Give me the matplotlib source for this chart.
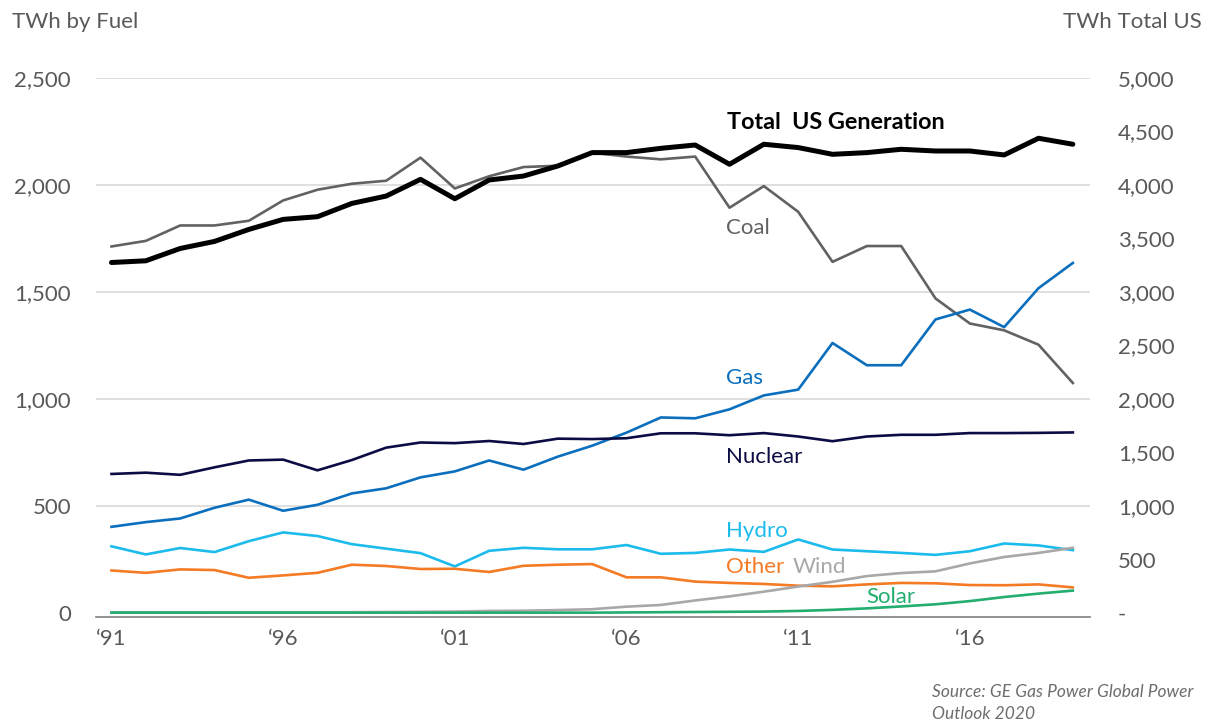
import numpy as np
import matplotlib
matplotlib.use("Agg")
import matplotlib.pyplot as plt

plt.rcParams['font.family'] = ['Lato', 'DejaVu Sans']

years = np.arange(1991, 2020)

# right axis (TWh Total US)
total = [3276, 3292, 3407, 3473, 3585, 3679, 3704, 3828, 3897, 4053, 3872, 4047, 4084, 4178, 4303,
         4303, 4343, 4374, 4194, 4381, 4350, 4287, 4303, 4334, 4318, 4318, 4281, 4437, 4381]

# left axis (TWh by fuel)
coal = [1713, 1739, 1811, 1811, 1833, 1928, 1978, 2006, 2020, 2128, 1984, 2041, 2084, 2090, 2151,
        2133, 2120, 2133, 1894, 1995, 1875, 1641, 1715, 1715, 1470, 1353, 1321, 1254, 1075]
gas = [403, 425, 442, 492, 530, 478, 506, 559, 583, 634, 662, 713, 670, 731, 782,
       843, 914, 910, 952, 1017, 1044, 1262, 1158, 1158, 1372, 1418, 1336, 1518, 1636]
nuclear = [650, 656, 646, 681, 713, 717, 667, 715, 773, 797, 794, 804, 790, 815, 813,
           817, 840, 840, 831, 841, 825, 803, 825, 833, 833, 841, 841, 842, 844]
hydro = [312, 274, 304, 285, 336, 377, 360, 322, 301, 280, 218, 291, 305, 298, 298,
         318, 277, 281, 297, 286, 344, 297, 289, 281, 272, 289, 325, 316, 294]
other = [199, 188, 204, 201, 165, 176, 188, 226, 220, 206, 207, 192, 221, 226, 229,
         167, 167, 147, 141, 136, 128, 125, 134, 141, 139, 131, 130, 134, 120]
wind = [3, 3, 3, 4, 4, 4, 4, 4, 5, 6, 7, 10, 11, 14, 18,
        30, 38, 59, 78, 100, 124, 146, 173, 187, 195, 232, 262, 281, 305]
solar = [2, 2, 2, 2, 2, 2, 2, 2, 2, 2, 2, 2, 2, 2, 2,
         3, 4, 5, 6, 7, 10, 15, 22, 31, 41, 56, 75, 91, 105]

xtick_years = [1991, 1996, 2001, 2006, 2011, 2016]
xtick_labels = ['\u201891', '\u201896', '\u201801', '\u201806', '\u201811', '\u201816']
left_ticks = [0, 500, 1000, 1500, 2000, 2500]
left_labels = ['0', '500', '1,000', '1,500', '2,000', '2,500']
right_ticks = [0, 500, 1000, 1500, 2000, 2500, 3000, 3500, 4000, 4500, 5000]
right_labels = ['-', '500', '1,000', '1,500', '2,000', '2,500', '3,000', '3,500', '4,000', '4,500', '5,000']

c_coal = '#626262'
c_gas = '#0b6fbd'
c_nuc = '#0c0c44'
c_hydro = '#1cbbec'
c_other = '#f57a24'
c_wind = '#a8a8a8'
c_solar = '#23ad6e'
c_tick = '#595959'

fig = plt.figure(figsize=(12.11, 7.23), dpi=100)
ax = fig.add_axes([0.0793, 0.1473, 0.8208, 0.7448])
ax2 = ax.twinx()

lw = 1.9
ax.plot(years, coal, color=c_coal, lw=lw)
ax.plot(years, gas, color=c_gas, lw=lw)
ax.plot(years, nuclear, color=c_nuc, lw=lw)
ax.plot(years, hydro, color=c_hydro, lw=lw)
ax.plot(years, other, color=c_other, lw=lw)
ax.plot(years, wind, color=c_wind, lw=lw)
ax.plot(years, solar, color=c_solar, lw=lw)
ax2.plot(years, total, color='black', lw=3.6, solid_capstyle='round', solid_joinstyle='round')

ax.set_xlim(1990.55, 2019.5)
ax.set_ylim(-16, 2500)
ax2.set_ylim(-32, 5000)

ax.set_xticks(xtick_years)
ax.set_xticklabels(xtick_labels)
ax.set_yticks(left_ticks)
ax.set_yticklabels(left_labels)
ax2.set_yticks(right_ticks)
ax2.set_yticklabels(right_labels)

ax.tick_params(axis='x', length=0, pad=9, labelsize=16, labelcolor=c_tick)
ax.tick_params(axis='y', length=0, pad=18, labelsize=16, labelcolor=c_tick)
ax2.tick_params(axis='y', length=0, pad=20, labelsize=16, labelcolor=c_tick)

ax.grid(axis='y', color='#d9d9d9', lw=1.2)
ax.yaxis.get_gridlines()[0].set_visible(False)
ax.set_axisbelow(True)
for a in (ax, ax2):
    for s in ('top', 'left', 'right'):
        a.spines[s].set_visible(False)
ax2.spines['bottom'].set_visible(False)
ax.spines['bottom'].set_color('#7f7f7f')
ax.spines['bottom'].set_linewidth(1.2)

# axis titles
fig.text(12 / 1211, 1 - 22 / 723, 'TWh by Fuel', fontsize=16, color=c_tick, ha='left', va='center')
fig.text(1202 / 1211, 1 - 22 / 723, 'TWh Total US', fontsize=16, color=c_tick, ha='right', va='center')

# series labels
ax.text(2008.94, 2294, 'Total  US Generation', fontsize=16.8, fontweight='bold', color='black', va='center')
ax.text(2008.9, 1799, 'Coal', fontsize=16, color=c_coal, va='center')
ax.text(2008.9, 1098, 'Gas', fontsize=16, color=c_gas, va='center')
ax.text(2008.9, 729, 'Nuclear', fontsize=16, color=c_nuc, va='center')
ax.text(2008.9, 383, 'Hydro', fontsize=16, color=c_hydro, va='center')
ax.text(2008.9, 215, 'Other', fontsize=16, color=c_other, va='center')
ax.text(2010.84, 215, 'Wind', fontsize=16, color=c_wind, va='center')
ax.text(2012.97, 75, 'Solar', fontsize=16, color=c_solar, va='center')

fig.text(932 / 1211, 1 - 692 / 723, 'Source: GE Gas Power Global Power', fontsize=12.5,
         style='italic', color='#6d6d6d', ha='left', va='center')
fig.text(932 / 1211, 1 - 714 / 723, 'Outlook 2020', fontsize=12.5,
         style='italic', color='#6d6d6d', ha='left', va='center')

fig.savefig('out.png', dpi=100)
